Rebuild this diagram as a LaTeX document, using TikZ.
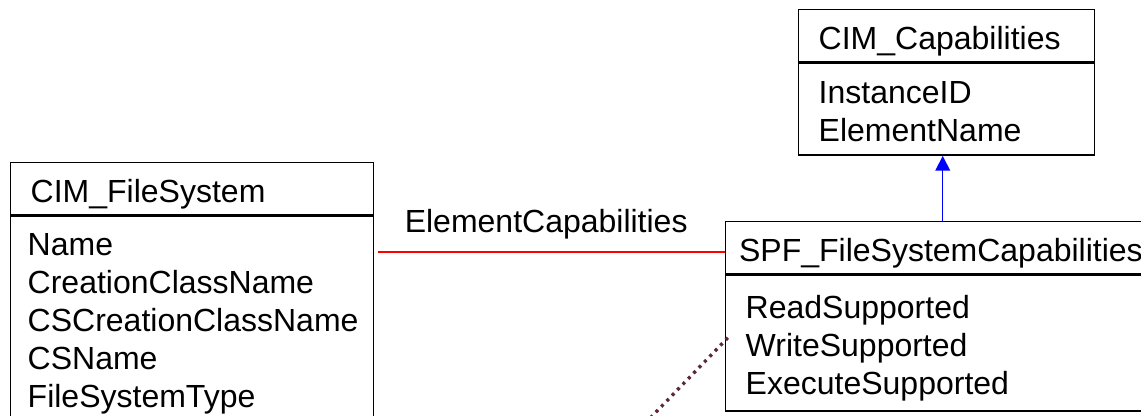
\documentclass[tikz,border=0pt]{standalone}
\usepackage{fontspec}
\setmainfont{Liberation Sans}
\usetikzlibrary{arrows.meta, calc}
\definecolor{depcol}{HTML}{5A2838}
% struts for the first and the last attribute line
\newcommand{\lstop}{\vrule width 0pt height 25.875pt depth 0pt}
\newcommand{\lsbot}{\vrule width 0pt height 0pt depth 5.25pt}

\begin{document}
\begin{tikzpicture}[x=0.75pt, y=-0.75pt, font=\fontsize{24}{28.5}\selectfont,
	hdr/.style={draw, line width=1.1pt, anchor=north west, align=left, minimum height=39pt, inner ysep=0pt, text height=20pt, text depth=0pt},
	attrs/.style={draw, line width=1.1pt, anchor=north west, align=left, inner ysep=0pt},
	assoc/.style={draw=red, line width=1.3pt},
	inherit/.style={draw=blue, fill=blue, line width=1.1pt, -{Triangle[width=11pt, length=11pt]}},
	dep/.style={draw=depcol, line width=2.5pt, dash pattern=on 2.3pt off 3.5pt}]
	\useasboundingbox (0,0) rectangle (1141,415);
	\clip (0,0) rectangle (1141,415);

	% classes
	\node[hdr, text width=242.25pt, inner xsep=15pt] (fs) at (10,162) {CIM\_FileSystem};
	\node[attrs, text width=246.75pt, inner xsep=12.75pt, minimum height=151.875pt] (fsattr) at (fs.south west)
		{\lstop Name\\CreationClassName\\CSCreationClassName\\CSName\\FileSystemType\lsbot};
	\node[hdr, text width=317.5pt, inner xsep=10pt] (spf) at (725,221) {SPF\_FileSystemCapabilities};
	\node[attrs, text width=307.5pt, inner xsep=15pt, minimum height=102pt] (spfattr) at (spf.south west)
		{\lstop ReadSupported\\WriteSupported\\ExecuteSupported\lsbot};
	\node[hdr, text width=192pt, inner xsep=15pt] (cap) at (798,9) {CIM\_Capabilities};
	\node[attrs, text width=192pt, inner xsep=15pt, minimum height=69pt] (capattr) at (cap.south west)
		{\lstop InstanceID\\ElementName\lsbot};

	% links
	\coordinate (ecR) at ([yshift=-3pt]spf.west);
	\draw[assoc] ($(fsattr.east |- ecR)+(3pt,0)$) -- (ecR)
		node[pos=0.484, above=9pt, inner sep=0pt, text=black] (ec) {ElementCapabilities};
	\draw[inherit] ($(spf.north -| capattr.south)+(-3pt,0)$) -- ($(capattr.south)+(-3pt,0)$);
	\coordinate (depend) at (629,440);
	\draw[dep] (depend) -- ([shift={(3pt,5pt)}]spfattr.west);
\end{tikzpicture}
\end{document}
